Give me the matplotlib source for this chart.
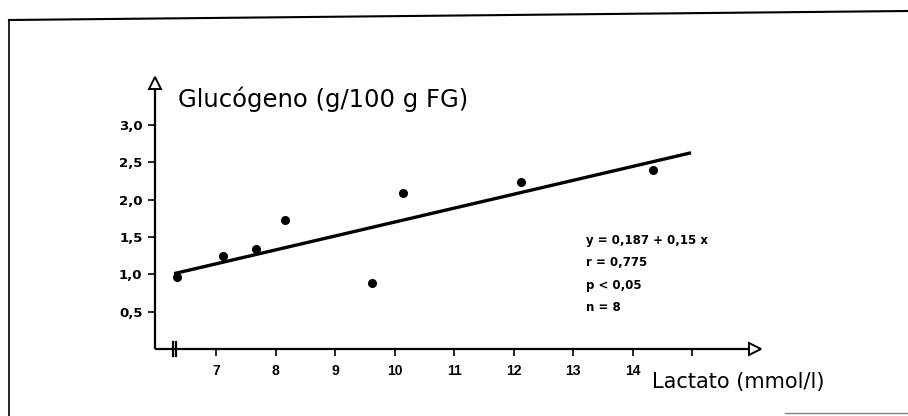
import numpy as np
import matplotlib
matplotlib.use('Agg')
import matplotlib.pyplot as plt
from matplotlib.lines import Line2D

#%% data

lactato = [6.34, 7.12, 7.66, 8.16, 9.62, 10.13, 12.13, 14.34]
glucogeno = [0.97, 1.25, 1.34, 1.73, 0.88, 2.09, 2.24, 2.40]

fit_x = [6.29, 14.98]
fit_y = [1.01, 2.63]

xticks = [7, 8, 9, 10, 11, 12, 13, 14, 15]
xticklabels = ['7', '8', '9', '10', '11', '12', '13', '14', '']
yticks = [0.5, 1.0, 1.5, 2.0, 2.5, 3.0]
yticklabels = ['0,5', '1,0', '1,5', '2,0', '2,5', '3,0']

stats_lines = ['y = 0,187 + 0,15 x', 'r = 0,775', 'p < 0,05', 'n = 8']

#%% figure

W, H = 908, 416
fig = plt.figure(figsize=(W/100, H/100), dpi=100)
fig.patch.set_facecolor('white')

x0, x1 = 5.97, 16.1
y0, y1 = 0.0, 3.6
left_px, bottom_px = 155, 349
ax = fig.add_axes([left_px/W, (H-bottom_px)/H, (757.7-left_px)/W, (bottom_px-80.4)/H])
ax.set_xlim(x0, x1)
ax.set_ylim(y0, y1)
for s in ax.spines.values():
    s.set_visible(False)
ax.patch.set_alpha(0)

# axes with arrow heads
ax.plot([x0, x1-0.08], [0, 0], color='black', lw=1.6, clip_on=False, solid_capstyle='butt')
ax.plot([x0, x0], [0, y1-0.05], color='black', lw=1.6, clip_on=False, solid_capstyle='butt')
ax.plot([x1-0.05], [0], marker='>', ms=8, mfc='white', mec='black', mew=1.4, clip_on=False)
ax.plot([x0], [y1-0.03], marker='^', ms=8, mfc='white', mec='black', mew=1.4, clip_on=False)

# axis break mark
ax.plot([6.27, 6.27], [-0.09, 0.09], color='black', lw=1.6, clip_on=False)
ax.plot([6.32, 6.32], [-0.09, 0.09], color='black', lw=1.6, clip_on=False)

ax.set_xticks(xticks)
ax.set_xticklabels(xticklabels, fontfamily='Liberation Sans', fontweight='bold', fontsize=10)
ax.set_yticks(yticks)
ax.set_yticklabels(yticklabels, fontfamily='DejaVu Sans', fontweight='bold', fontsize=9.5)
ax.tick_params(axis='x', direction='out', length=5, width=1.2, pad=6)
ax.tick_params(axis='y', direction='out', length=5, width=1.2, pad=4)

# data and regression line
ax.plot(fit_x, fit_y, color='black', lw=2.4, solid_capstyle='butt')
ax.plot(lactato, glucogeno, 'o', color='black', ms=5.5)

# axis titles
ax.text(6.35, 3.35, 'Glucógeno (g/100 g FG)', fontfamily='DejaVu Sans', fontsize=17.5,
        ha='left', va='center')
ax.text(14.33, -0.44, 'Lactato (mmol/l)', fontfamily='DejaVu Sans', fontsize=15,
        ha='left', va='center', clip_on=False)

# statistics
for k, s in enumerate(stats_lines):
    ax.text(13.22, 1.45-k*0.297, s, fontfamily='DejaVu Sans', fontweight='bold',
            fontsize=8.5, ha='left', va='center')

# frame round the figure (scanned page)
fig.add_artist(Line2D([9/W, 9/W], [1-20/H, 0], color='black', lw=1.2))
fig.add_artist(Line2D([9/W, 1], [1-20/H, 1-11/H], color='black', lw=1.5))
fig.add_artist(Line2D([785/W, 1], [1-413/H, 1-413/H], color='0.5', lw=1.0))

fig.savefig('out.png', dpi=100, facecolor='white')
